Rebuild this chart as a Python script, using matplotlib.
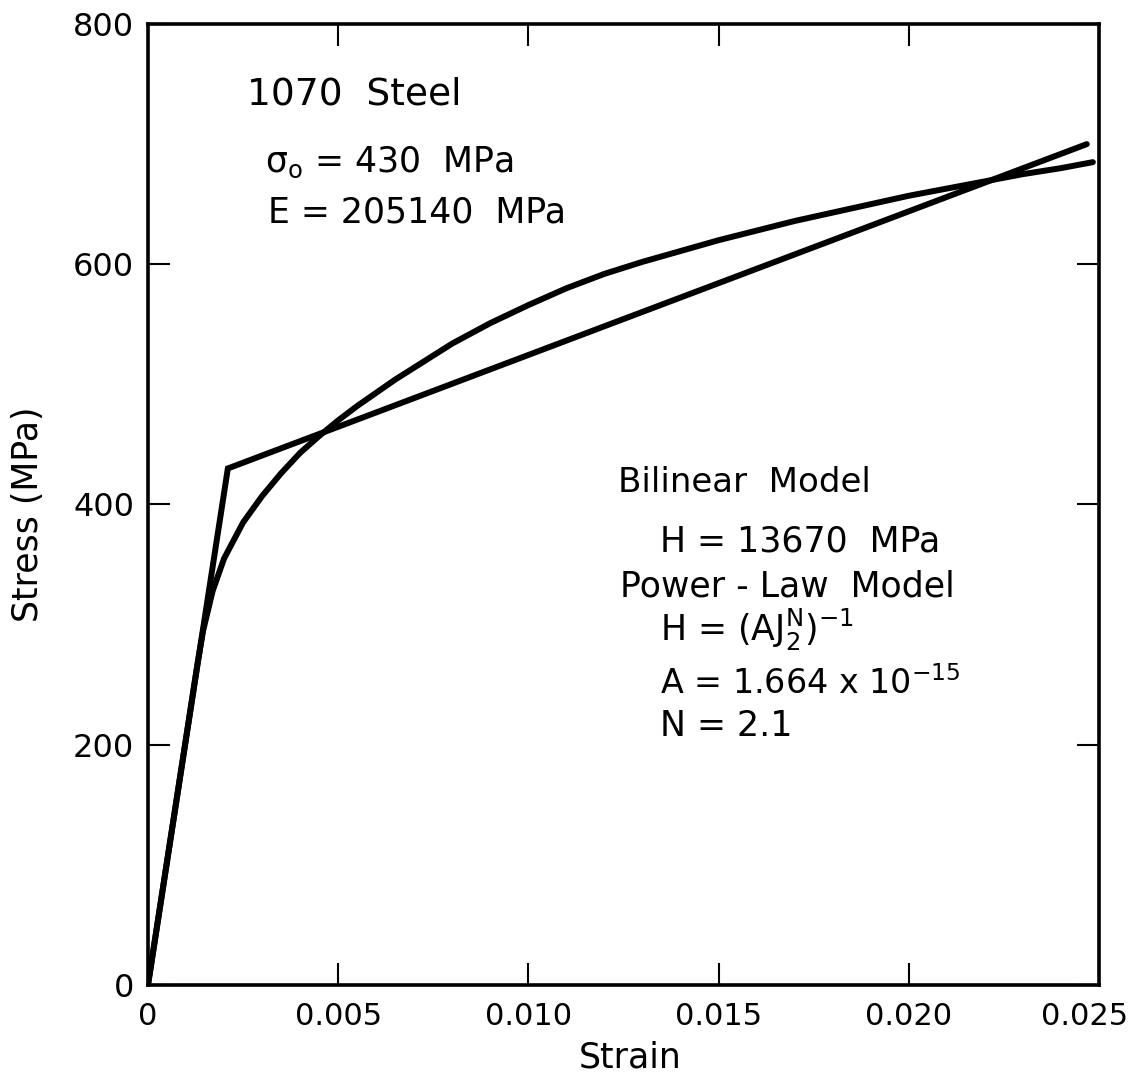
import matplotlib
matplotlib.use('Agg')
import matplotlib.pyplot as plt
import matplotlib.transforms as mtransforms

# bilinear model: elastic up to sigma_0, then linear hardening
bilinear_strain = [0.0, 0.0021, 0.02468]
bilinear_stress = [0.0, 430.0, 700.0]

# power-law model
power_strain = [0.0, 0.0013, 0.00145, 0.0017, 0.0020, 0.0025, 0.0030, 0.0035,
                0.0040, 0.0045, 0.0050, 0.0055, 0.0060, 0.0065, 0.0070, 0.0075,
                0.0080, 0.0090, 0.0100, 0.0110, 0.0120, 0.0130, 0.0140, 0.0150,
                0.0160, 0.0170, 0.0180, 0.0190, 0.0200, 0.0210, 0.0220, 0.0230,
                0.0240, 0.02484]
power_stress = [0.0, 267, 295, 328, 355, 385, 407, 426,
                443, 457, 470, 482, 493, 504, 514, 524,
                534, 551, 566, 580, 592, 602, 611, 620,
                628, 636, 643, 650, 657, 663, 669, 675,
                680, 685]

xticks = [0, 0.005, 0.010, 0.015, 0.020, 0.025]
xticklabels = ['0', '0.005', '0.010', '0.015', '0.020', '0.025']
yticks = [0, 200, 400, 600, 800]

plt.rcParams['font.family'] = 'DejaVu Sans'
plt.rcParams['mathtext.default'] = 'regular'

fig = plt.figure(figsize=(11.4, 10.76), dpi=100)
ax = fig.add_axes([0.1298, 0.0846, 0.8342, 0.8931])

ax.plot(bilinear_strain, bilinear_stress, color='black', lw=4.3,
        solid_capstyle='round', solid_joinstyle='miter')
ax.plot(power_strain, power_stress, color='black', lw=4.3,
        solid_capstyle='round', solid_joinstyle='round')

ax.set_xlim(0, 0.025)
ax.set_ylim(0, 800)
ax.set_xticks(xticks)
ax.set_xticklabels(xticklabels)
ax.set_yticks(yticks)
ax.tick_params(direction='in', length=16, width=1.5, top=True, right=True,
               color='black')
ax.tick_params(axis='x', pad=12, labelsize=22)
ax.tick_params(axis='y', pad=10, labelsize=23)
for sp in ax.spines.values():
    sp.set_linewidth(2.6)

# last strain label sits a bit left of its tick, as in the original
last = ax.get_xticklabels()[-1]
last.set_transform(last.get_transform() +
                   mtransforms.ScaledTranslation(-0.14, 0, fig.dpi_scale_trans))

ax.set_xlabel('Strain', fontsize=25, va='top')
ax.xaxis.set_label_coords(0.507, -0.058)
ax.set_ylabel('Stress (MPa)', fontsize=25)
ax.yaxis.set_label_coords(-0.108, 0.49)

ax.text(0.0026, 733, '1070  Steel', fontsize=27, va='baseline')
ax.text(0.00308, 677, r'$\sigma_o$ = 430  MPa', fontsize=25, va='baseline')
ax.text(0.00315, 635, 'E = 205140  MPa', fontsize=25, va='baseline')

ax.text(0.01236, 410, 'Bilinear  Model', fontsize=24.5, va='baseline')
ax.text(0.01346, 361, 'H = 13670  MPa', fontsize=25, va='baseline')
ax.text(0.01241, 323, 'Power - Law  Model', fontsize=25, va='baseline')
ax.text(0.01346, 286, r'H = (AJ$_2^N$)$^{-1}$', fontsize=25, va='baseline')
ax.text(0.01346, 242, r'A = 1.664 x 10$^{-15}$', fontsize=24, va='baseline')
ax.text(0.01346, 207, 'N = 2.1', fontsize=25, va='baseline')

fig.savefig('out.png', dpi=100)
